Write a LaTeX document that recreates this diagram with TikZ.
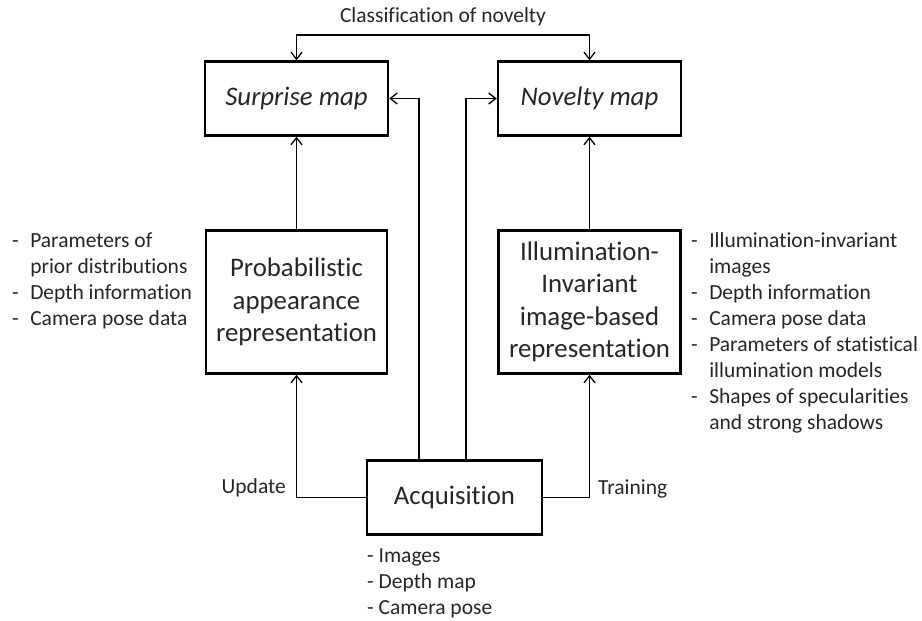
\documentclass[tikz,border=0pt]{standalone}
\usepackage{fontspec}
\setmainfont{Carlito}[Ligatures=NoCommon, Contextuals=NoAlternate, RawFeature=-clig, RawFeature=-dlig]
\usetikzlibrary{arrows.meta}
\begin{document}
\begin{tikzpicture}[x=1pt,y=-1pt,
  >={Straight Barb[length=7pt,width=11pt]},
  box/.style={draw=black, line width=2.5pt, align=center, inner sep=0pt,
    font=\fontsize{26.8}{32.5}\selectfont, text=black!85},
  conn/.style={draw=black, line width=1.3pt},
  note/.style={font=\fontsize{21.5}{26}\selectfont, text=black!85, inner sep=0pt},
]
\useasboundingbox (0,0) rectangle (922,621);

% main blocks
\node[box, minimum width=183pt, minimum height=74pt] (surprise) at (296.5,98.5) {\itshape Surprise map};
\node[box, minimum width=183pt, minimum height=74pt] (novelty) at (589.5,98.5) {\itshape Novelty map};
\node[box, minimum width=181pt, minimum height=143pt] (prob) at (296.5,302)
  {Probabilistic\\appearance\\representation};
\node[box, minimum width=182pt, minimum height=143pt] (illum) at (589.5,302)
  {Illumination-\\Invariant\\image-based\\representation};
\node[box, minimum width=175pt, minimum height=74pt] (acq) at (454.5,497.5) {Acquisition};

% top link between the two maps
\coordinate (cls) at (443,35);
\node[note] (clslabel) at (443,17) {Classification of novelty};
\draw[conn,<->] (surprise.north) |- (cls) -| (novelty.north);

% vertical flows
\draw[conn,->] (prob) -- (surprise);
\draw[conn,->] (illum) -- (novelty);
\draw[conn,->] ([xshift=-35.5pt]acq.north) |- (surprise.east);
\draw[conn,->] ([xshift=11.5pt]acq.north) |- (novelty.west);
\draw[conn,->] (acq.west) -| (prob.south);
\draw[conn,->] (acq.east) -| (illum.south);

% edge labels
\node[note, anchor=east] (update) at (286,488) {Update};
\node[note, anchor=west] (training) at (598,489) {Training};

% side notes
\node[note, anchor=base west] (leftlist) at (12,247) {%
  \begin{tabular}[t]{@{}l@{\hspace{11.5pt}}l@{}}
  - & Parameters of\\
    & prior distributions\\
  - & Depth information\\
  - & Camera pose data
  \end{tabular}};
\node[note, anchor=base west] (rightlist) at (691,247) {%
  \begin{tabular}[t]{@{}l@{\hspace{11.5pt}}l@{}}
  - & Illumination-invariant\\
    & images\\
  - & Depth information\\
  - & Camera pose data\\
  - & Parameters of statistical\\
    & illumination models\\
  - & Shapes of specularities\\
    & and strong shadows
  \end{tabular}};
\node[note, anchor=base west] (acqlist) at (367,562) {%
  \begin{tabular}[t]{@{}l@{}}
  - Images\\
  - Depth map\\
  - Camera pose
  \end{tabular}};
\end{tikzpicture}
\end{document}
